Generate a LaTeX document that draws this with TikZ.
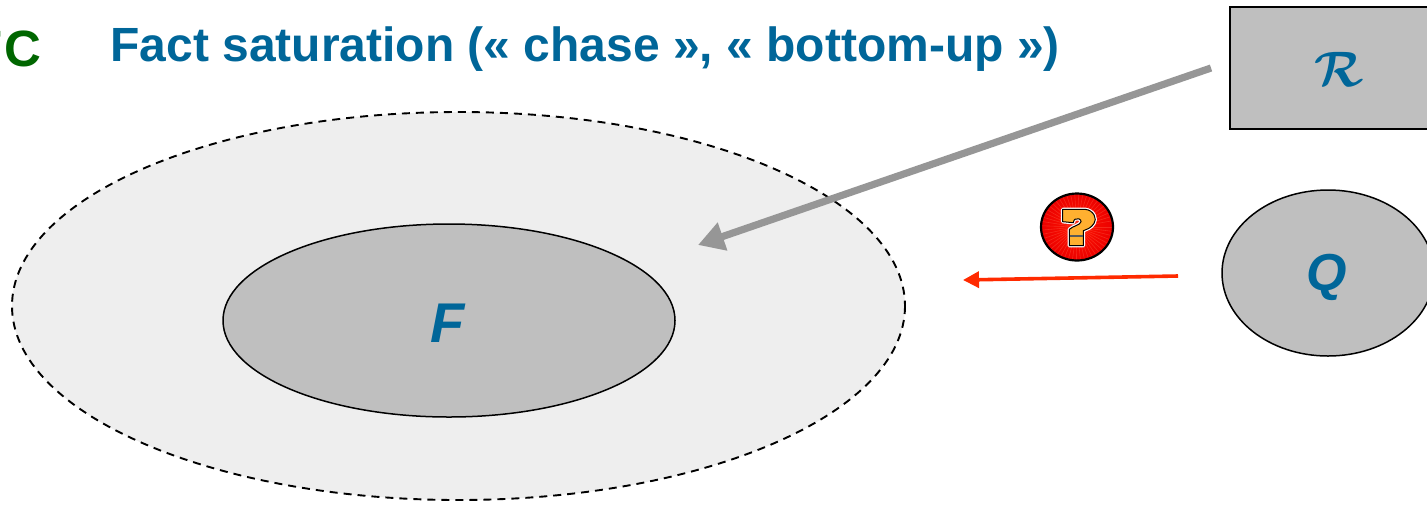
\documentclass[tikz,border=0pt]{standalone}
\usepackage{fontspec}
\setmainfont{Liberation Sans}
\usetikzlibrary{arrows.meta}
\definecolor{titleblue}{HTML}{006699}
\definecolor{fcgreen}{HTML}{006600}
\definecolor{shapegray}{HTML}{BFBFBF}
\definecolor{lightgray2}{HTML}{EEEEEE}
\definecolor{arrowgray}{HTML}{969696}
\definecolor{arrowred}{HTML}{FF2A00}
\definecolor{qorange}{HTML}{FFB030}
\definecolor{rayred}{HTML}{FF6A50}
\newcommand{\qmarkpath}{(128,88) -- (195,88) .. controls (222,90) and (232,118) .. (222,130)
  .. controls (214,144) and (200,148) .. (190,152) -- (190,197) -- (148,197) -- (148,148)
  .. controls (158,138) and (180,136) .. (183,125)
  .. controls (184,117) and (172,114) .. (166,117) .. controls (162,119) and (160,124) .. (160,128) -- (128,125) -- cycle}
\tikzset{
  px/.style={x=0.5pt,y=-0.5pt},
  shapebox/.style={draw=black,line width=0.75pt,fill=shapegray},
  bluelabel/.style={text=titleblue,font=\bfseries\itshape\fontsize{28pt}{28pt}\selectfont,inner sep=0pt},
  titletext/.style={text=titleblue,font=\bfseries\fontsize{24pt}{28pt}\selectfont,inner sep=0pt,anchor=base west},
}
\begin{document}
\begin{tikzpicture}[px]
\useasboundingbox (0,0) rectangle (1427,505);
\begin{scope}
\clip (0,0) rectangle (1427,505);
\node[text=fcgreen,font=\bfseries\fontsize{25.5pt}{28pt}\selectfont,inner sep=0pt,anchor=base east] (fc) at (41.5,66) {F\kern0.6pt C};
\end{scope}
\node[titletext] (title) at (110,61) {Fact saturation (« chase », « bottom-up »)};
% saturated set
\path[draw=black,line width=0.95pt,dash pattern=on 4pt off 3pt,fill=lightgray2] (458.5,306) ellipse [x radius=446.5,y radius=194];
% F
\path[shapebox] (449,320.5) ellipse [x radius=226,y radius=96.5];
\node[bluelabel] (f) at (448,323) {F};
% R
\begin{scope}
\clip (0,0) rectangle (1427,505);
\path[shapebox] (1230,7) rectangle (1445,129);
\end{scope}
\node[inner sep=0pt,text=titleblue,font=\fontsize{33pt}{34pt}\selectfont] (r) at (1339,69) {\mbox{\mathversion{bold}$\mathcal{R}$}};
% Q
\begin{scope}
\clip (0,0) rectangle (1427,505);
\path[shapebox] (1328,273) ellipse [x radius=106,y radius=83];
\end{scope}
\node[bluelabel,font=\bfseries\itshape\fontsize{26pt}{28pt}\selectfont] (q) at (1327,277) {Q};
% connectors
\coordinate (grayfrom) at (1211,68);
\coordinate (grayto) at (698,245);
\draw[arrowgray,line width=3.6pt,-{Triangle[length=13pt,width=14pt]}] (grayfrom) -- (grayto);
\coordinate (redfrom) at (1178,276);
\coordinate (redto) at (963,280);
\draw[arrowred,line width=1.8pt,-{Triangle[length=8pt,width=8pt]}] (redfrom) -- (redto);
% question icon
\begin{scope}
\clip (1077,227) ellipse [x radius=36,y radius=33.5];
\shade[inner color=red!85!orange,outer color=red!92!black] (1040,192) rectangle (1114,262);
\foreach \ang in {0,7,...,353}
  \draw[rayred,line width=0.3pt,opacity=0.35] (1077,227) -- ++(\ang:40);
\end{scope}
\path[draw=black,line width=1.1pt] (1077,227) ellipse [x radius=36,y radius=33.5];
\begin{scope}[shift={(1020,180)},x=0.1667pt,y=-0.1667pt]
\path[draw=white,line width=1.7pt,line join=round] \qmarkpath;
\path[draw=black,line width=0.5pt,fill=qorange,line join=miter] \qmarkpath;
\path[fill=black!65] (150,165) rectangle (188,172);
\end{scope}
\end{tikzpicture}
\end{document}
